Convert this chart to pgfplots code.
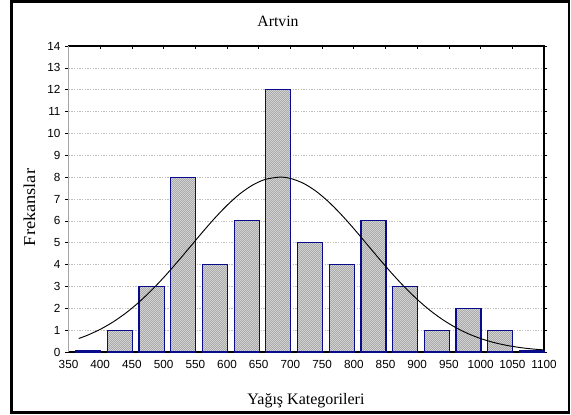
\documentclass[border=0pt]{standalone}
\usepackage{fontspec}
\setmainfont{Liberation Serif}
\newfontfamily\arialf{Liberation Sans}
\usepackage{pgfplots}
\pgfplotsset{compat=1.18}
\usetikzlibrary{patterns}
\pgfdeclarepatternformonly{finehatch}{\pgfqpoint{-0.5pt}{-0.5pt}}{\pgfqpoint{2pt}{2pt}}{\pgfqpoint{1.5pt}{1.5pt}}{%
  \pgfsetlinewidth{0.5pt}%
  \pgfpathmoveto{\pgfqpoint{-0.1pt}{-0.1pt}}%
  \pgfpathlineto{\pgfqpoint{1.6pt}{1.6pt}}%
  \pgfusepath{stroke}}
\definecolor{barblue}{RGB}{10,10,140}
\begin{document}
\begin{tikzpicture}
\begin{axis}[
  at={(51.4pt,46.5pt)}, anchor=south west,
  scale only axis, width=356.6pt, height=229.5pt,
  xmin=350, xmax=1100, ymin=0, ymax=14,
  xtick={350,400,...,1100}, ytick={0,1,...,14},
  /pgf/number format/assume math mode=true,
  /pgf/number format/1000 sep={},
  ticklabel style={font=\arialf\fontsize{8.8}{10}\selectfont},
  tick align=outside, major tick length=2.5pt,
  xtick pos=upper, xticklabel pos=lower,
  x tick style={yshift=-2.5pt},
  ytick pos=both,
  tick style={black, line width=0.5pt},
  ymajorgrids, grid style={gray!50, dash pattern=on 1pt off 1pt, line width=0.5pt},
  axis line style={black, line width=0.8pt},
  clip=false,
]
\addplot[ybar, bar width=39.5, bar shift=0pt, draw=barblue, line width=0.9pt,
  fill=gray!22, postaction={pattern=finehatch, pattern color=gray!75}]
coordinates {
(381,0.05) (431,1) (481,3) (531,8) (581,4) (631,6) (681,12) (731,5)
(781,4) (831,6) (881,3) (931,1) (981,2) (1031,1) (1081,0.05)
};
\addplot[black, line width=0.7pt, smooth, no marks] coordinates {
(366,0.616) (380,0.769) (400,1.037) (420,1.370) (440,1.774) (460,2.250)
(480,2.796) (500,3.405) (520,4.062) (540,4.748) (560,5.438) (580,6.103)
(600,6.710) (620,7.230) (640,7.631) (660,7.893) (683,8.000) (700,7.941)
(720,7.725) (740,7.364) (760,6.877) (780,6.293) (800,5.642) (820,4.956)
(840,4.266) (860,3.598) (880,2.973) (900,2.407) (920,1.909) (940,1.484)
(960,1.130) (980,0.843) (1000,0.616) (1020,0.441) (1040,0.310)
(1060,0.213) (1080,0.143) (1100,0.095)
};
\draw[gray!70, line width=1.3pt] (rel axis cs:0,0) -- (rel axis cs:0,1);
\end{axis}
\node[anchor=base, font=\fontsize{11.8}{13}\selectfont] at (208.5pt,290.25pt) {Artvin};
\node[anchor=base, font=\fontsize{12}{14}\selectfont] at (229.5pt,7.5pt) {Yağış Kategorileri};
\node[anchor=base, rotate=90, font=\fontsize{12.5}{14}\selectfont] at (26.25pt,154.9pt) {\scalebox{1.1}[1]{Frekanslar}};
\draw[black, line width=2pt] (8.5pt,1.1pt) rectangle (426.75pt,309.4pt);
\pgfresetboundingbox
\useasboundingbox (0,0) rectangle (428.25pt,310.5pt);
\end{tikzpicture}
\end{document}
